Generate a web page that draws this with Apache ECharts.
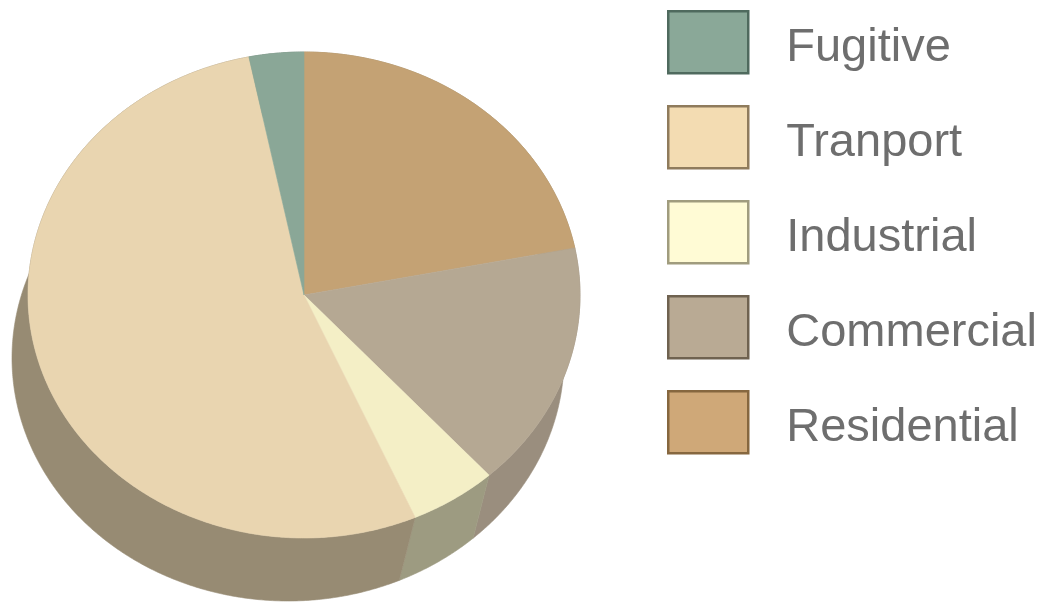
<!DOCTYPE html>
<html>
<head>
<meta charset="utf-8">
<script src="https://cdn.jsdelivr.net/npm/echarts@6/dist/echarts.min.js"></script>
<style>
html,body{margin:0;padding:0;background:#fff;}
#chart{width:1051px;height:603px;}
</style>
</head>
<body>
<div id="chart"></div>
<script>
// Data (clockwise from 12 o'clock)
const categories = ['Residential', 'Commercial', 'Industrial', 'Tranport', 'Fugitive'];
const values = [21.9, 16.4, 5.1, 53.4, 3.2];
const legendOrder = ['Fugitive', 'Tranport', 'Industrial', 'Commercial', 'Residential'];

// Styles
const topColors = ['#c4a274', '#b5a893', '#f4efc6', '#e9d5b0', '#8aa797'];
const sideColors = ['#9a8462', '#9a8e7e', '#9d9b81', '#978b73', '#6b7f73'];
const legendFill = {Fugitive:'#8aa898', Tranport:'#f3dcb2', Industrial:'#fffbd5', Commercial:'#b9aa94', Residential:'#cfa878'};
const legendBorder = {Fugitive:'#4f6a5e', Tranport:'#8f7b5c', Industrial:'#a09c7e', Commercial:'#6f6250', Residential:'#86673f'};

// Geometry of the tilted pie
const CX = 304, CY = 295, RX = 276, RY = 243, DX = -16, DY = 63;

const total = values.reduce((a, b) => a + b, 0);
function angles(idx, v) {
  let acc = 0;
  for (let k = 0; k < idx; k++) acc += values[k];
  return [acc / total * Math.PI * 2, (acc + v) / total * Math.PI * 2];
}
function arc(a0, a1) {
  const n = Math.max(8, Math.ceil((a1 - a0) / 0.008));
  const pts = [];
  for (let j = 0; j <= n; j++) {
    const t = a0 + (a1 - a0) * j / n;
    pts.push([CX + RX * Math.sin(t), CY - RY * Math.cos(t)]);
  }
  return pts;
}

const chart = echarts.init(document.getElementById('chart'), null, {renderer: 'canvas'});

const series = [];
// sides
series.push({
  type: 'custom',
  name: '_side',
  coordinateSystem: 'none',
  z: 1,
  silent: true,
  data: values.map((v, i) => [i, v]),
  renderItem: function (params, api) {
    const i = api.value(0);
    const [a0, a1] = angles(i, api.value(1));
    const t = arc(a0, a1);
    const b = t.map(p => [p[0] + DX, p[1] + DY]).reverse();
    return {
      type: 'polygon',
      shape: {points: t.concat(b)},
      style: {fill: sideColors[i], stroke: sideColors[i], lineWidth: 0.6}
    };
  }
});
// tops
categories.forEach((name, i) => {
  series.push({
    type: 'custom',
    name: name,
    coordinateSystem: 'none',
    z: 2,
    itemStyle: {color: legendFill[name]},
    data: [values[i]],
    renderItem: function (params, api) {
      const [a0, a1] = angles(i, api.value(0));
      const pts = [[CX, CY]].concat(arc(a0, a1));
      return {
        type: 'polygon',
        shape: {points: pts},
        style: {fill: topColors[i], stroke: topColors[i], lineWidth: 0.6}
      };
    }
  });
});

chart.setOption({
  animation: false,
  backgroundColor: '#ffffff',
  legend: {
    orient: 'vertical',
    left: 667,
    top: 10,
    padding: 0,
    itemWidth: 80,
    itemHeight: 62,
    itemGap: 30.5,
    selectedMode: false,
    icon: 'rect',
    data: legendOrder.map(n => ({
      name: n,
      itemStyle: {color: legendFill[n], borderColor: legendBorder[n], borderWidth: 2.5}
    })),
    formatter: '{t|{name}}',
    textStyle: {
      fontFamily: 'Liberation Sans, Arial, sans-serif',
      fontSize: 47,
      color: '#6e6e6e',
      rich: {
        t: {
          fontFamily: 'Liberation Sans, Arial, sans-serif',
          fontSize: 47,
          lineHeight: 46,
          color: '#6e6e6e',
          padding: [12, 0, 0, 33]
        }
      }
    }
  },
  series: series
});
</script>
</body>
</html>
